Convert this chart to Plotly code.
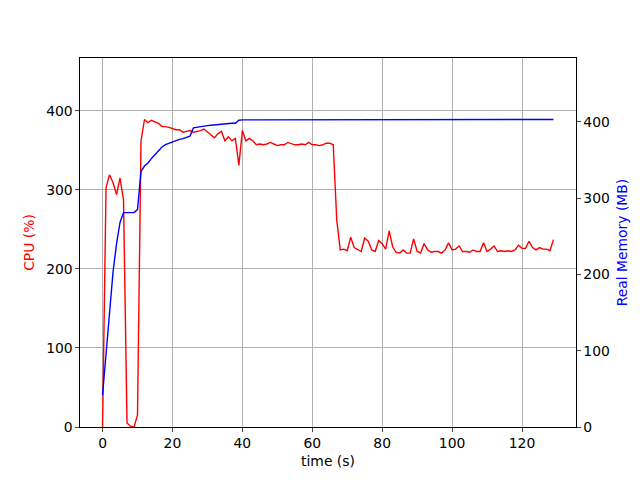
import plotly.graph_objects as go

time_s = list(range(0, 130))

cpu_pct = [
    0, 303, 319, 309, 294, 315, 287, 5, 1, 0,
    15, 362, 389, 385, 388, 386, 384, 380, 380, 379,
    377, 376, 376, 373, 374, 375, 373, 374, 375, 377,
    373, 369, 366, 371, 374, 362, 367, 362, 365, 331,
    375, 362, 365, 362, 357, 358, 357, 358, 360, 358,
    356, 357, 357, 360, 358, 357, 357, 358, 357, 360,
    357, 357, 356, 357, 359, 359, 357, 262, 224, 225,
    223, 240, 227, 224, 222, 239, 235, 224, 222, 236,
    232, 225, 248, 228, 221, 220, 224, 220, 220, 238,
    222, 220, 232, 224, 221, 222, 222, 220, 224, 233,
    224, 225, 229, 222, 222, 221, 224, 222, 222, 233,
    222, 225, 229, 222, 223, 222, 223, 222, 224, 230,
    226, 226, 235, 227, 224, 227, 225, 225, 223, 237,
]

mem_mb = [
    42, 95, 150, 203, 240, 268, 281, 281, 281, 281,
    285, 335, 342, 346, 352, 357, 362, 367, 370, 372,
    373, 375, 377, 378, 379, 381, 392, 393, 394, 394.5,
    395, 395.5, 396, 396.5, 397, 397, 397.5, 398, 398, 402,
] + [402.5] * 39 + [403] * 51

x_ticks = [0, 20, 40, 60, 80, 100, 120]
y_ticks = [0, 100, 200, 300, 400]

FONT = "DejaVu Sans"
FS = 13.9
GRID = "#b0b0b0"

fig = go.Figure()
fig.add_trace(go.Scatter(x=time_s, y=cpu_pct, mode="lines",
                         line=dict(color="#ff0000", width=1.4), yaxis="y",
                         showlegend=False))
fig.add_trace(go.Scatter(x=time_s, y=mem_mb, mode="lines",
                         line=dict(color="#0000ff", width=1.4), yaxis="y2",
                         showlegend=False))

tmin, tmax = min(time_s), max(time_s)
span = tmax - tmin

fig.update_layout(
    width=640, height=480,
    margin=dict(l=72, r=72, t=50, b=61),
    paper_bgcolor="white", plot_bgcolor="white",
    font=dict(family=FONT, size=FS, color="black"),
    xaxis=dict(
        range=[tmin - 0.05 * span, tmax + 0.05 * span],
        tickvals=x_ticks, ticks="outside", ticklen=3.5, tickwidth=1.1,
        showline=True, linecolor="black", linewidth=1.1, mirror=True,
        showgrid=True, gridcolor=GRID, gridwidth=1.1, zeroline=False,
        title=dict(text="time (s)", font=dict(size=FS, color="black"), standoff=6),
    ),
    yaxis=dict(
        range=[0, 1.2 * max(cpu_pct)],
        tickvals=y_ticks, ticks="outside", ticklen=3.5, tickwidth=1.1,
        showline=True, linecolor="black", linewidth=1.1,
        showgrid=True, gridcolor=GRID, gridwidth=1.1, zeroline=False,
        title=dict(text="CPU (%)", font=dict(size=FS, color="#ff0000"), standoff=8),
    ),
    yaxis2=dict(
        range=[0, 1.2 * max(mem_mb)], overlaying="y", side="right",
        tickvals=y_ticks, ticks="outside", ticklen=3.5, tickwidth=1.1,
        showline=True, linecolor="black", linewidth=1.1,
        showgrid=False, zeroline=False,
        title=dict(text="Real Memory (MB)", font=dict(size=FS, color="#0000ff"), standoff=8),
    ),
)

fig.write_html("out.html")
